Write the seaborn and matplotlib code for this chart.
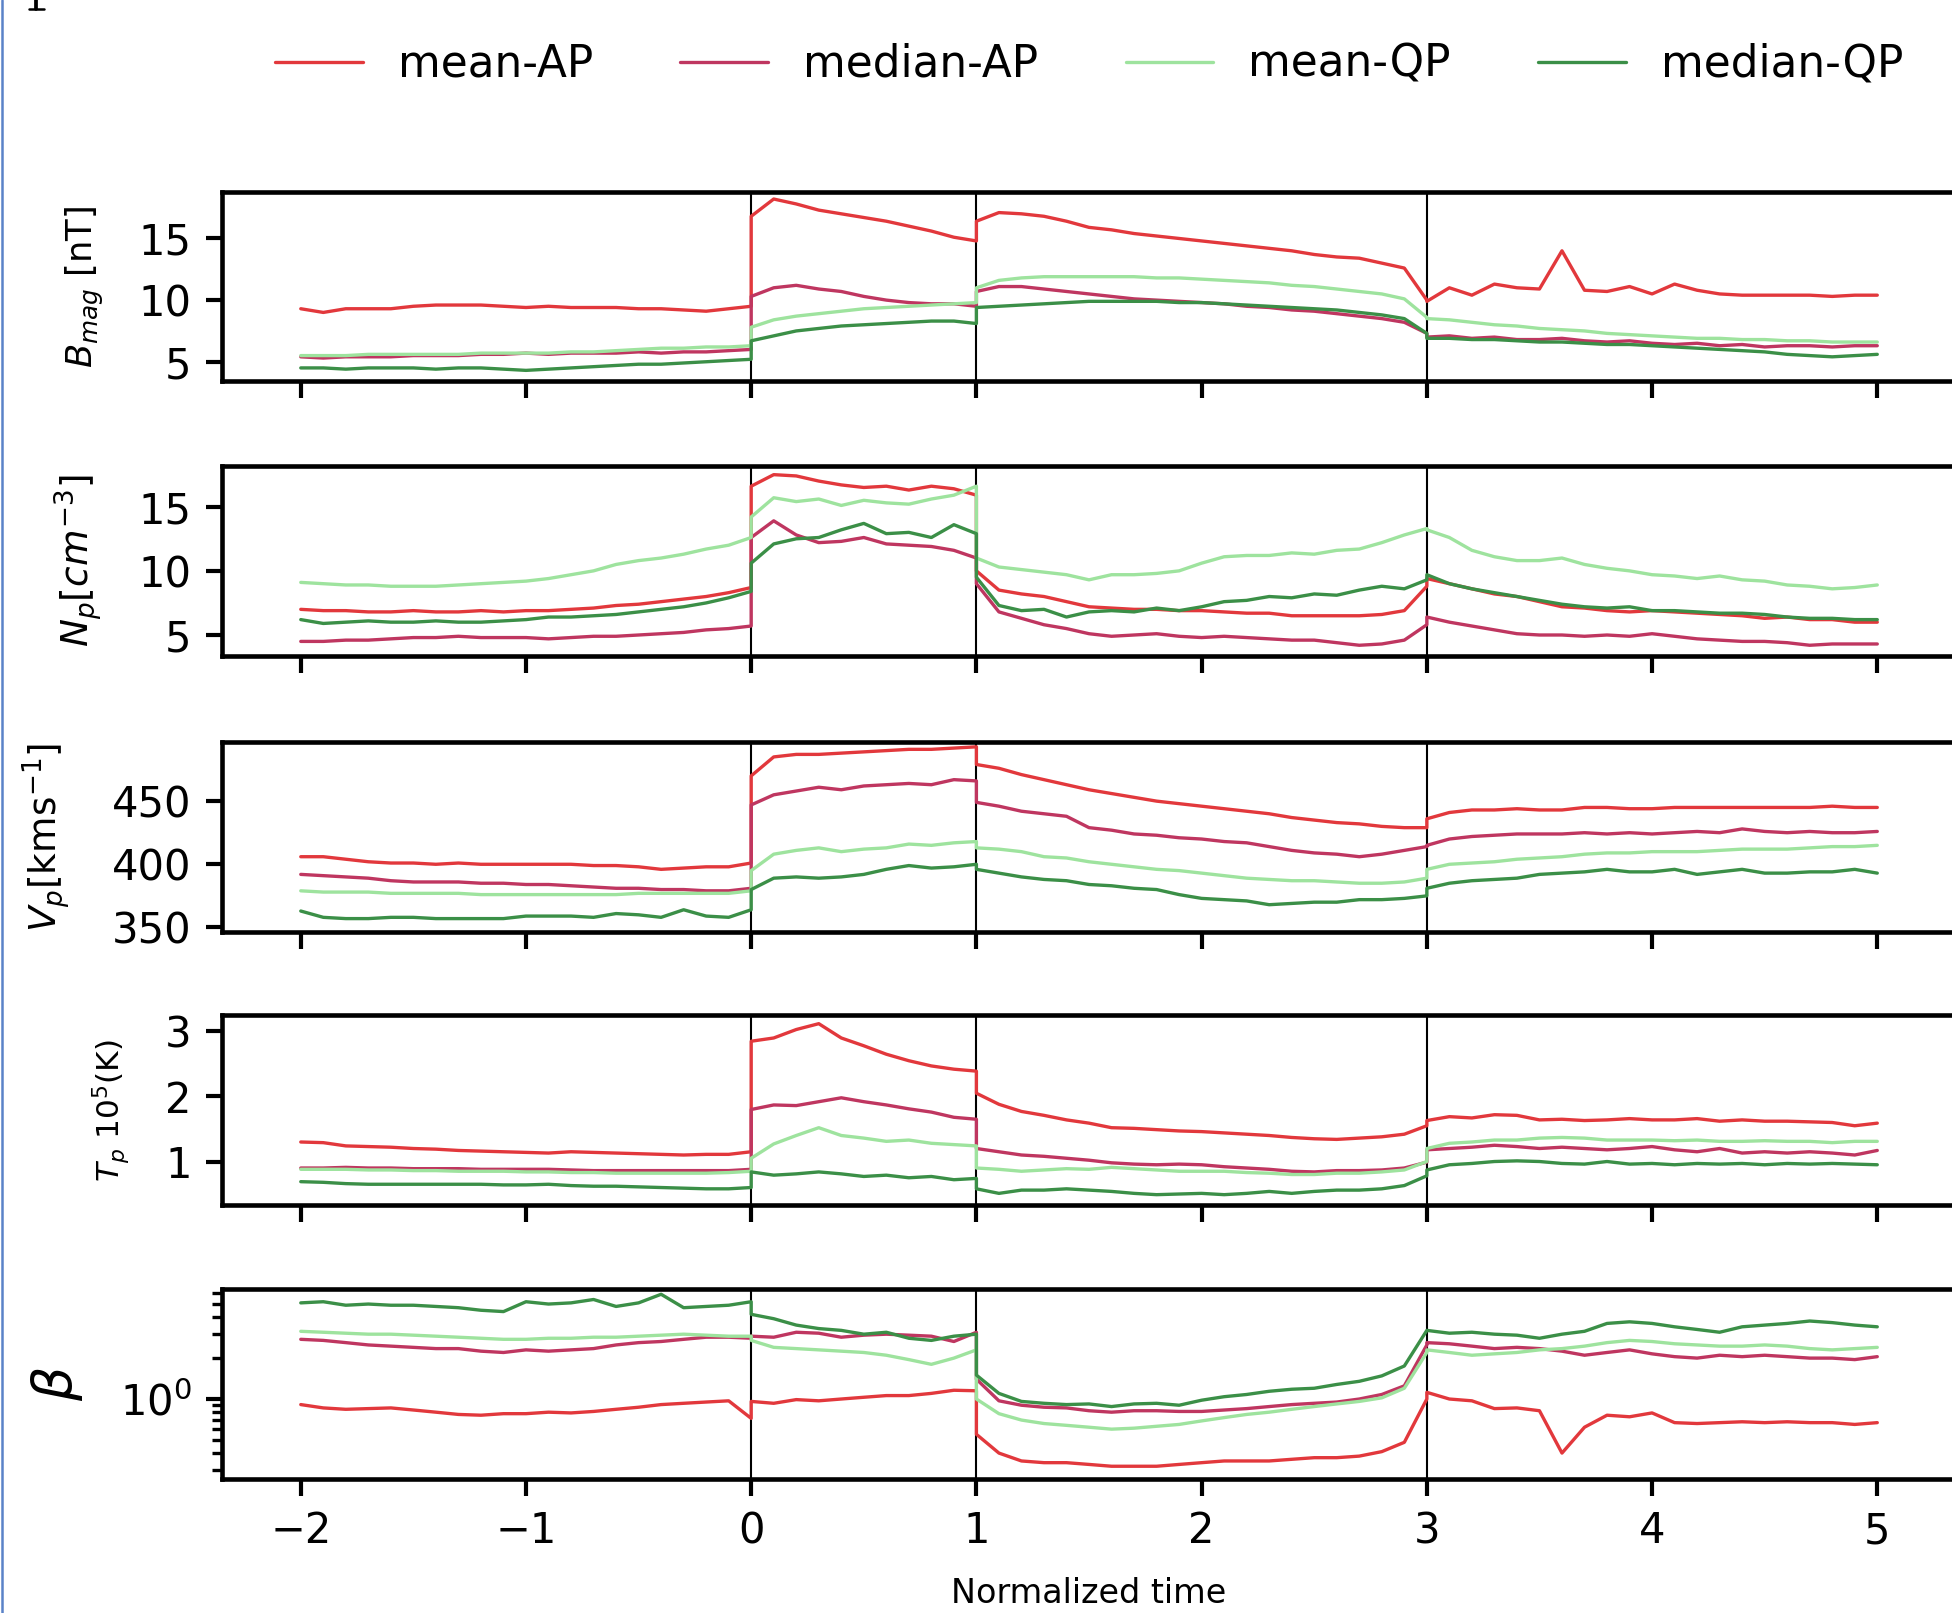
import numpy as np
import pandas as pd
import seaborn as sns
from matplotlib import pyplot as plt
from matplotlib.lines import Line2D
from matplotlib.ticker import NullFormatter

# normalized time: -2..0 upstream, 0..1 sheath, 1..3 cloud, 3..5 downstream
time = np.concatenate([np.linspace(-2, 0, 21), np.linspace(0, 1, 11),
                       np.linspace(1, 3, 21), np.linspace(3, 5, 21)])

series = ['mean-AP', 'median-AP', 'mean-QP', 'median-QP']
colors = ['#e2383c', '#bf3660', '#9ee39e', '#3b8f47']
boundaries = [0, 1, 3]

# B_mag [nT]
bmag_mean_ap = ([9.3, 9.0, 9.3, 9.3, 9.3, 9.5, 9.6, 9.6, 9.6, 9.5, 9.4, 9.5, 9.4, 9.4, 9.4, 9.3, 9.3, 9.2, 9.1, 9.3, 9.5]
                + [16.8, 18.2, 17.8, 17.3, 17.0, 16.7, 16.4, 16.0, 15.6, 15.1, 14.8]
                + [16.4, 17.1, 17.0, 16.8, 16.4, 15.9, 15.7, 15.4, 15.2, 15.0, 14.8, 14.6, 14.4, 14.2, 14.0, 13.7, 13.5, 13.4, 13.0, 12.6, 10.0]
                + [9.9, 11.0, 10.4, 11.3, 11.0, 10.9, 14.0, 10.8, 10.7, 11.1, 10.5, 11.3, 10.8, 10.5, 10.4, 10.4, 10.4, 10.4, 10.3, 10.4, 10.4])
bmag_median_ap = ([5.4, 5.3, 5.4, 5.4, 5.4, 5.5, 5.5, 5.5, 5.6, 5.6, 5.7, 5.6, 5.7, 5.7, 5.7, 5.8, 5.7, 5.8, 5.8, 5.9, 6.0]
                  + [10.3, 11.0, 11.2, 10.9, 10.7, 10.3, 10.0, 9.8, 9.7, 9.7, 9.5]
                  + [10.7, 11.1, 11.1, 10.9, 10.7, 10.5, 10.3, 10.1, 10.0, 9.9, 9.8, 9.7, 9.5, 9.4, 9.2, 9.1, 8.9, 8.7, 8.5, 8.2, 7.3]
                  + [7.0, 7.1, 6.9, 7.0, 6.8, 6.8, 6.9, 6.7, 6.6, 6.7, 6.5, 6.4, 6.5, 6.3, 6.4, 6.2, 6.3, 6.3, 6.2, 6.3, 6.3])
bmag_mean_qp = ([5.5, 5.5, 5.5, 5.6, 5.6, 5.6, 5.6, 5.6, 5.7, 5.7, 5.7, 5.7, 5.8, 5.8, 5.9, 6.0, 6.1, 6.1, 6.2, 6.2, 6.3]
                + [7.8, 8.4, 8.7, 8.9, 9.1, 9.3, 9.4, 9.5, 9.6, 9.7, 9.8]
                + [11.0, 11.6, 11.8, 11.9, 11.9, 11.9, 11.9, 11.9, 11.8, 11.8, 11.7, 11.6, 11.5, 11.4, 11.2, 11.1, 10.9, 10.7, 10.5, 10.1, 8.6]
                + [8.5, 8.4, 8.2, 8.0, 7.9, 7.7, 7.6, 7.5, 7.3, 7.2, 7.1, 7.0, 6.9, 6.9, 6.8, 6.8, 6.7, 6.7, 6.6, 6.6, 6.6])
bmag_median_qp = ([4.5, 4.5, 4.4, 4.5, 4.5, 4.5, 4.4, 4.5, 4.5, 4.4, 4.3, 4.4, 4.5, 4.6, 4.7, 4.8, 4.8, 4.9, 5.0, 5.1, 5.2]
                  + [6.7, 7.1, 7.5, 7.7, 7.9, 8.0, 8.1, 8.2, 8.3, 8.3, 8.1]
                  + [9.4, 9.5, 9.6, 9.7, 9.8, 9.9, 9.9, 9.9, 9.9, 9.8, 9.8, 9.7, 9.6, 9.5, 9.4, 9.3, 9.2, 9.0, 8.8, 8.5, 7.3]
                  + [6.9, 6.9, 6.8, 6.8, 6.7, 6.6, 6.6, 6.5, 6.4, 6.4, 6.3, 6.2, 6.1, 6.0, 5.9, 5.8, 5.6, 5.5, 5.4, 5.5, 5.6])

# N_p [cm^-3]
np_mean_ap = ([7.0, 6.9, 6.9, 6.8, 6.8, 6.9, 6.8, 6.8, 6.9, 6.8, 6.9, 6.9, 7.0, 7.1, 7.3, 7.4, 7.6, 7.8, 8.0, 8.3, 8.7]
              + [16.6, 17.5, 17.4, 17.0, 16.7, 16.5, 16.6, 16.3, 16.6, 16.4, 15.9]
              + [10.0, 8.5, 8.2, 8.0, 7.6, 7.2, 7.1, 7.0, 7.0, 6.9, 6.9, 6.8, 6.7, 6.7, 6.5, 6.5, 6.5, 6.5, 6.6, 6.9, 8.8]
              + [9.4, 9.0, 8.6, 8.2, 8.0, 7.6, 7.2, 7.1, 6.9, 6.8, 6.9, 6.8, 6.7, 6.6, 6.5, 6.3, 6.4, 6.2, 6.2, 6.0, 6.0])
np_median_ap = ([4.5, 4.5, 4.6, 4.6, 4.7, 4.8, 4.8, 4.9, 4.8, 4.8, 4.8, 4.7, 4.8, 4.9, 4.9, 5.0, 5.1, 5.2, 5.4, 5.5, 5.7]
                + [12.6, 13.9, 12.8, 12.2, 12.3, 12.6, 12.1, 12.0, 11.9, 11.6, 11.0]
                + [9.0, 6.8, 6.3, 5.8, 5.5, 5.1, 4.9, 5.0, 5.1, 4.9, 4.8, 4.9, 4.8, 4.7, 4.6, 4.6, 4.4, 4.2, 4.3, 4.6, 5.8]
                + [6.4, 6.0, 5.7, 5.4, 5.1, 5.0, 5.0, 4.9, 5.0, 4.9, 5.1, 4.9, 4.7, 4.6, 4.5, 4.5, 4.4, 4.2, 4.3, 4.3, 4.3])
np_mean_qp = ([9.1, 9.0, 8.9, 8.9, 8.8, 8.8, 8.8, 8.9, 9.0, 9.1, 9.2, 9.4, 9.7, 10.0, 10.5, 10.8, 11.0, 11.3, 11.7, 12.0, 12.6]
              + [14.2, 15.7, 15.4, 15.6, 15.1, 15.5, 15.3, 15.2, 15.6, 15.9, 16.6]
              + [11.0, 10.3, 10.1, 9.9, 9.7, 9.3, 9.7, 9.7, 9.8, 10.0, 10.6, 11.1, 11.2, 11.2, 11.4, 11.3, 11.6, 11.7, 12.2, 12.8, 13.3]
              + [13.2, 12.6, 11.6, 11.1, 10.8, 10.8, 11.0, 10.5, 10.2, 10.0, 9.7, 9.6, 9.4, 9.6, 9.3, 9.2, 8.9, 8.8, 8.6, 8.7, 8.9])
np_median_qp = ([6.2, 5.9, 6.0, 6.1, 6.0, 6.0, 6.1, 6.0, 6.0, 6.1, 6.2, 6.4, 6.4, 6.5, 6.6, 6.8, 7.0, 7.2, 7.5, 7.9, 8.4]
                + [10.6, 12.1, 12.5, 12.6, 13.2, 13.7, 12.9, 13.0, 12.6, 13.6, 12.9]
                + [9.5, 7.3, 6.9, 7.0, 6.4, 6.8, 6.9, 6.8, 7.1, 6.9, 7.2, 7.6, 7.7, 8.0, 7.9, 8.2, 8.1, 8.5, 8.8, 8.6, 9.3]
                + [9.7, 9.0, 8.6, 8.3, 8.0, 7.7, 7.4, 7.2, 7.1, 7.2, 6.9, 6.9, 6.8, 6.7, 6.7, 6.6, 6.4, 6.3, 6.3, 6.2, 6.2])

# V_p [km/s]
vp_mean_ap = ([406, 406, 404, 402, 401, 401, 400, 401, 400, 400, 400, 400, 400, 399, 399, 398, 396, 397, 398, 398, 401]
              + [470, 485, 487, 487, 488, 489, 490, 491, 491, 492, 493]
              + [479, 476, 471, 467, 463, 459, 456, 453, 450, 448, 446, 444, 442, 440, 437, 435, 433, 432, 430, 429, 429]
              + [436, 441, 443, 443, 444, 443, 443, 445, 445, 444, 444, 445, 445, 445, 445, 445, 445, 445, 446, 445, 445])
vp_median_ap = ([392, 391, 390, 389, 387, 386, 386, 386, 385, 385, 384, 384, 383, 382, 381, 381, 380, 380, 379, 379, 381]
                + [447, 455, 458, 461, 459, 462, 463, 464, 463, 467, 466]
                + [449, 446, 442, 440, 438, 429, 427, 424, 423, 421, 420, 418, 417, 414, 411, 409, 408, 406, 408, 411, 414]
                + [415, 420, 422, 423, 424, 424, 424, 425, 424, 425, 424, 425, 426, 425, 428, 426, 425, 426, 425, 425, 426])
vp_mean_qp = ([379, 378, 378, 378, 377, 377, 377, 377, 376, 376, 376, 376, 376, 376, 376, 377, 377, 377, 377, 377, 379]
              + [395, 408, 411, 413, 410, 412, 413, 416, 415, 417, 418]
              + [413, 412, 410, 406, 405, 402, 400, 398, 396, 395, 393, 391, 389, 388, 387, 387, 386, 385, 385, 386, 389]
              + [396, 400, 401, 402, 404, 405, 406, 408, 409, 409, 410, 410, 410, 411, 412, 412, 412, 413, 414, 414, 415])
vp_median_qp = ([363, 358, 357, 357, 358, 358, 357, 357, 357, 357, 359, 359, 359, 358, 361, 360, 358, 364, 359, 358, 364]
                + [380, 389, 390, 389, 390, 392, 396, 399, 397, 398, 400]
                + [396, 393, 390, 388, 387, 384, 383, 381, 380, 376, 373, 372, 371, 368, 369, 370, 370, 372, 372, 373, 375]
                + [381, 385, 387, 388, 389, 392, 393, 394, 396, 394, 394, 396, 392, 394, 396, 393, 393, 394, 394, 396, 393])

# T_p [10^5 K]
tp_mean_ap = ([1.30, 1.29, 1.24, 1.23, 1.22, 1.20, 1.19, 1.17, 1.16, 1.15, 1.14, 1.13, 1.15, 1.14, 1.13, 1.12, 1.11, 1.10, 1.11, 1.11, 1.15]
              + [2.85, 2.90, 3.03, 3.12, 2.90, 2.78, 2.65, 2.55, 2.47, 2.42, 2.39]
              + [2.05, 1.88, 1.77, 1.71, 1.64, 1.59, 1.52, 1.51, 1.49, 1.47, 1.46, 1.44, 1.42, 1.40, 1.37, 1.35, 1.34, 1.36, 1.38, 1.42, 1.55]
              + [1.63, 1.69, 1.67, 1.72, 1.71, 1.64, 1.65, 1.63, 1.64, 1.66, 1.64, 1.64, 1.66, 1.62, 1.64, 1.62, 1.62, 1.61, 1.60, 1.55, 1.59])
tp_median_ap = ([0.90, 0.90, 0.91, 0.90, 0.90, 0.89, 0.89, 0.89, 0.88, 0.88, 0.88, 0.88, 0.87, 0.86, 0.86, 0.86, 0.86, 0.86, 0.86, 0.86, 0.88]
                + [1.80, 1.87, 1.86, 1.92, 1.98, 1.92, 1.87, 1.81, 1.76, 1.68, 1.65]
                + [1.20, 1.15, 1.10, 1.08, 1.05, 1.02, 0.98, 0.96, 0.95, 0.96, 0.95, 0.92, 0.90, 0.88, 0.85, 0.84, 0.86, 0.86, 0.87, 0.90, 0.99]
                + [1.18, 1.20, 1.22, 1.25, 1.23, 1.20, 1.22, 1.20, 1.18, 1.20, 1.23, 1.18, 1.15, 1.20, 1.13, 1.15, 1.13, 1.15, 1.13, 1.10, 1.17])
tp_mean_qp = ([0.88, 0.88, 0.88, 0.87, 0.87, 0.86, 0.86, 0.85, 0.85, 0.85, 0.84, 0.84, 0.83, 0.83, 0.82, 0.82, 0.82, 0.82, 0.82, 0.83, 0.85]
              + [1.05, 1.27, 1.40, 1.52, 1.40, 1.36, 1.31, 1.33, 1.28, 1.26, 1.24]
              + [0.90, 0.88, 0.85, 0.87, 0.89, 0.88, 0.91, 0.89, 0.87, 0.85, 0.85, 0.85, 0.83, 0.82, 0.80, 0.80, 0.82, 0.82, 0.84, 0.87, 1.00]
              + [1.20, 1.28, 1.30, 1.33, 1.33, 1.36, 1.37, 1.36, 1.33, 1.33, 1.33, 1.32, 1.33, 1.31, 1.31, 1.32, 1.31, 1.31, 1.29, 1.31, 1.31])
tp_median_qp = ([0.69, 0.68, 0.66, 0.65, 0.65, 0.65, 0.65, 0.65, 0.65, 0.64, 0.64, 0.65, 0.63, 0.62, 0.62, 0.61, 0.60, 0.59, 0.58, 0.58, 0.60]
                + [0.84, 0.79, 0.81, 0.84, 0.81, 0.77, 0.79, 0.75, 0.77, 0.72, 0.74]
                + [0.58, 0.51, 0.56, 0.56, 0.58, 0.56, 0.54, 0.51, 0.49, 0.50, 0.51, 0.49, 0.51, 0.54, 0.51, 0.54, 0.56, 0.56, 0.58, 0.63, 0.78]
                + [0.87, 0.95, 0.97, 1.00, 1.01, 1.00, 0.97, 0.96, 1.00, 0.96, 0.97, 0.95, 0.97, 0.96, 0.97, 0.95, 0.97, 0.96, 0.97, 0.96, 0.95])

# plasma beta
beta_mean_ap = ([0.91, 0.86, 0.84, 0.85, 0.86, 0.83, 0.80, 0.77, 0.76, 0.78, 0.78, 0.80, 0.79, 0.81, 0.84, 0.87, 0.91, 0.93, 0.95, 0.97, 0.72]
                + [0.96, 0.93, 0.99, 0.97, 1.00, 1.03, 1.06, 1.06, 1.10, 1.16, 1.15]
                + [0.55, 0.40, 0.35, 0.34, 0.34, 0.33, 0.32, 0.32, 0.32, 0.33, 0.34, 0.35, 0.35, 0.35, 0.36, 0.37, 0.37, 0.38, 0.41, 0.48, 1.00]
                + [1.12, 1.00, 0.97, 0.85, 0.86, 0.82, 0.40, 0.62, 0.76, 0.74, 0.79, 0.67, 0.66, 0.67, 0.68, 0.67, 0.68, 0.67, 0.67, 0.65, 0.67])
beta_median_ap = ([2.75, 2.70, 2.60, 2.50, 2.45, 2.40, 2.35, 2.35, 2.25, 2.20, 2.30, 2.25, 2.30, 2.35, 2.50, 2.60, 2.65, 2.75, 2.85, 2.85, 2.80]
                  + [2.90, 2.85, 3.10, 3.05, 2.85, 2.95, 3.00, 2.95, 2.90, 2.65, 3.10]
                  + [1.40, 0.97, 0.90, 0.87, 0.86, 0.82, 0.80, 0.82, 0.82, 0.81, 0.81, 0.83, 0.85, 0.88, 0.91, 0.93, 0.95, 1.00, 1.08, 1.25, 2.50]
                  + [2.60, 2.55, 2.45, 2.35, 2.40, 2.35, 2.25, 2.10, 2.20, 2.30, 2.15, 2.05, 2.00, 2.10, 2.05, 2.10, 2.05, 2.00, 2.00, 1.95, 2.05])
beta_mean_qp = ([3.15, 3.10, 3.05, 3.00, 3.00, 2.95, 2.90, 2.85, 2.80, 2.75, 2.75, 2.80, 2.80, 2.85, 2.85, 2.90, 2.95, 3.00, 2.95, 2.90, 2.90]
                + [2.70, 2.40, 2.35, 2.30, 2.25, 2.20, 2.10, 1.95, 1.80, 2.00, 2.30]
                + [1.00, 0.78, 0.70, 0.66, 0.64, 0.62, 0.60, 0.61, 0.63, 0.65, 0.69, 0.73, 0.77, 0.80, 0.84, 0.88, 0.92, 0.96, 1.02, 1.20, 2.20]
                + [2.30, 2.20, 2.10, 2.15, 2.20, 2.30, 2.35, 2.45, 2.60, 2.70, 2.65, 2.55, 2.50, 2.45, 2.45, 2.50, 2.45, 2.35, 2.30, 2.35, 2.40])
beta_median_qp = ([5.1, 5.2, 4.9, 5.0, 4.9, 4.9, 4.8, 4.7, 4.5, 4.4, 5.2, 5.0, 5.1, 5.4, 4.8, 5.1, 5.9, 4.7, 4.8, 4.9, 5.2]
                  + [4.2, 3.9, 3.5, 3.3, 3.2, 3.0, 3.1, 2.8, 2.7, 2.9, 3.0]
                  + [1.50, 1.10, 0.96, 0.93, 0.91, 0.92, 0.88, 0.92, 0.93, 0.90, 0.98, 1.04, 1.08, 1.14, 1.18, 1.20, 1.28, 1.35, 1.48, 1.75, 3.20]
                  + [3.20, 3.05, 3.10, 3.00, 2.95, 2.80, 3.00, 3.15, 3.60, 3.70, 3.60, 3.40, 3.25, 3.10, 3.40, 3.50, 3.60, 3.75, 3.65, 3.50, 3.40])

panels = [
    dict(label=r'$B_{mag}$ [nT]', values=[bmag_mean_ap, bmag_median_ap, bmag_mean_qp, bmag_median_qp],
         ylim=(3.4, 18.8), yticks=[5, 10, 15], scale='linear', size=8.5, lx=-0.067),
    dict(label=r'$N_p[cm^{-3}]$', values=[np_mean_ap, np_median_ap, np_mean_qp, np_median_qp],
         ylim=(3.4, 18.2), yticks=[5, 10, 15], scale='linear', size=9, lx=-0.068),
    dict(label=r'$V_p$[kms$^{-1}$]', values=[vp_mean_ap, vp_median_ap, vp_mean_qp, vp_median_qp],
         ylim=(346.4, 496.7), yticks=[350, 400, 450], scale='linear', size=9, lx=-0.086),
    dict(label=r'$T_p$ 10$^5$(K)', values=[tp_mean_ap, tp_median_ap, tp_mean_qp, tp_median_qp],
         ylim=(0.33, 3.25), yticks=[1, 2, 3], scale='linear', size=7.5, lx=-0.052),
    dict(label=r'$\beta$', values=[beta_mean_ap, beta_median_ap, beta_mean_qp, beta_median_qp],
         ylim=(0.258, 6.44), yticks=None, scale='log', size=13, lx=-0.079),
]

sns.set_theme(style='ticks', rc={
    'axes.edgecolor': 'black', 'axes.linewidth': 1.1,
    'xtick.color': 'black', 'ytick.color': 'black',
    'xtick.major.size': 4, 'ytick.major.size': 3.8,
    'xtick.major.width': 1.0, 'ytick.major.width': 1.0,
    'ytick.minor.size': 2.4, 'ytick.minor.width': 0.8,
    'xtick.labelsize': 10, 'ytick.labelsize': 10,
    'text.color': 'black', 'axes.labelcolor': 'black',
})
plt.rcParams['font.family'] = ['DejaVu Sans']

fig = plt.figure(figsize=(1952 / 300, 1613 / 300), dpi=300)
bottoms = [0.7635, 0.5936, 0.4222, 0.2529, 0.0831]
axes = [fig.add_axes([0.1137, b, 0.8884, 0.1177]) for b in bottoms]

for i, (ax, p) in enumerate(zip(axes, panels)):
    df = pd.DataFrame({
        'time': np.tile(time, len(series)),
        'value': np.concatenate(p['values']),
        'series': np.repeat(series, len(time)),
    })
    sns.lineplot(data=df, x='time', y='value', hue='series', hue_order=series,
                 palette=colors, estimator=None, sort=False, lw=0.8,
                 ax=ax, legend=(i == 0))
    for b in boundaries:
        ax.axvline(b, color='black', lw=0.5, zorder=1)
    ax.set_yscale(p['scale'])
    ax.set_ylim(p['ylim'])
    if p['yticks'] is not None:
        ax.set_yticks(p['yticks'])
    else:
        ax.yaxis.set_minor_formatter(NullFormatter())
    ax.set_xlim(-2.35, 5.35)
    ax.set_xticks(range(-2, 6))
    ax.set_ylabel(p['label'], fontsize=p['size'])
    ax.yaxis.set_label_coords(p['lx'], 0.5)
    ax.set_xlabel('')
    if i < len(panels) - 1:
        ax.tick_params(labelbottom=False)

axes[-1].set_xlabel('Normalized time', fontsize=8, labelpad=6)

# legend on top, one row, no frame
old = axes[0].get_legend()
handles = old.legend_handles
labels = [t.get_text() for t in old.get_texts()]
axes[0].legend(handles, labels, loc='center', bbox_to_anchor=(0.5, 1.67),
               ncol=4, frameon=False, fontsize=10.5)

# page edge remnants from the screenshot: blue margin rule and a clipped glyph foot
W, H = 1952, 1613
fig.add_artist(Line2D([0.0008, 0.0008], [0, 1], transform=fig.transFigure,
                      color='#5a82c8', lw=0.6))
fig.add_artist(Line2D([36 / W, 36 / W], [1, 1 - 9 / H], transform=fig.transFigure,
                      color='black', lw=0.9))
fig.add_artist(Line2D([29 / W, 44 / W], [1 - 9 / H, 1 - 9 / H], transform=fig.transFigure,
                      color='black', lw=0.6))

fig.savefig('out.png', dpi=300, facecolor='white')
